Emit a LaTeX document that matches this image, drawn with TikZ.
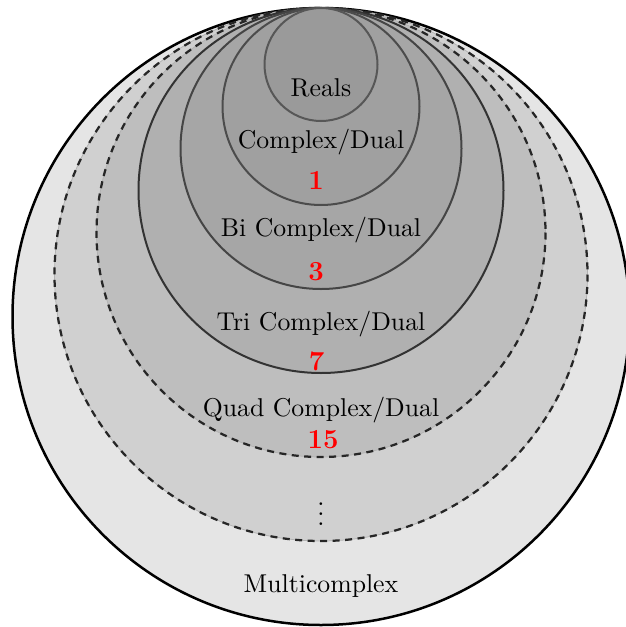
\documentclass[tikz,border=0pt]{standalone}
\usepackage{xcolor}
\definecolor{f1}{gray}{0.898}
\definecolor{f2}{gray}{0.816}
\definecolor{f3}{gray}{0.745}
\definecolor{f4}{gray}{0.69}
\definecolor{f5}{gray}{0.65}
\definecolor{f6}{gray}{0.627}
\definecolor{f7}{gray}{0.604}
\begin{document}
\begin{tikzpicture}[x=0.4pt,y=-0.4pt,
  lbl/.style={anchor=base,inner sep=0pt,font=\fontsize{10.3}{12}\selectfont},
  num/.style={anchor=base,inner sep=0pt,text=red,font=\fontsize{11}{12}\selectfont\bfseries},
  solidring/.style={line width=0.8pt},
  dashring/.style={line width=0.9pt,draw=black!85,dash pattern=on 2.8pt off 2.2pt}]
\clip (0,0) rectangle (626,627);
\useasboundingbox (0,0) rectangle (626,627);
% outer
\fill[f1] (321,316.5) circle (308.5);
\draw[line width=1pt] (321,316.5) circle (308.5);
% dashed 2
\fill[f2] (321,274.5) circle (266.5);
\draw[black!30,line width=0.3pt] (321,274.5) circle (266.5);
\draw[dashring] (321,274.5) circle (266.5);
% dashed 3
\fill[f3] (321,232.5) circle (224.5);
\draw[black!30,line width=0.3pt] (321,232.5) circle (224.5);
\draw[dashring] (321,232.5) circle (224.5);
% solid 4
\filldraw[fill=f4,draw=black!80,solidring] (321,190.5) circle (182.5);
% solid 5
\filldraw[fill=f5,draw=black!73,solidring] (321,148.5) circle (140.5);
% solid 6
\filldraw[fill=f6,draw=black!70,solidring] (321,106.5) circle (98.5);
% solid 7
\filldraw[fill=f7,draw=black!66,solidring] (321,64.5) circle (56.5);
% labels
\node[lbl] (reals) at (321,96.7) {Reals};
\node[lbl] (cd) at (321,148.3) {Complex/Dual};
\node[num] (n1) at (316,189) {1};
\node[lbl] (bcd) at (321,236.7) {Bi Complex/Dual};
\node[num] (n3) at (316,280) {3};
\node[lbl] (tcd) at (321,330) {Tri Complex/Dual};
\node[num] (n7) at (316.5,370) {7};
\node[lbl] (qcd) at (321,416.7) {Quad Complex/Dual};
\node[num] (n15) at (323,448.3) {15};
\node[inner sep=0pt,font=\fontsize{10.3}{12}\selectfont] (dots) at (321,507) {$\vdots$};
\node[lbl] (mc) at (321,592) {Multicomplex};
\end{tikzpicture}
\end{document}
